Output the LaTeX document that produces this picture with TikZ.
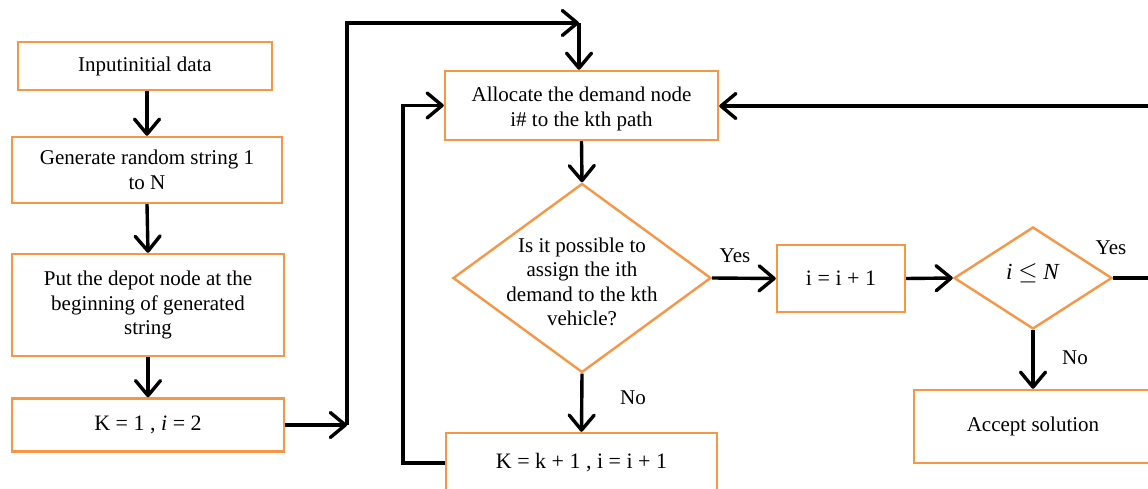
\documentclass[tikz,border=0pt]{standalone}
\usepackage{fontspec}
\setmainfont{Liberation Serif}
\usetikzlibrary{shapes.geometric,arrows.meta}
\definecolor{boxorange}{RGB}{247,150,70}
\tikzset{
  base/.style={draw=boxorange, line width=2.4pt, fill=white, inner sep=2pt,
    align=center, font=\fontsize{21}{24.5}\selectfont},
  procbox/.style={base, rectangle},
  decision/.style={base, diamond},
  txt/.style={align=center, inner sep=0pt, font=\fontsize{21}{24.5}\selectfont},
  flow/.style={line width=3.4pt, draw=black,
    -{Straight Barb[length=15pt,width=25pt,line width=3.4pt,round]}},
}
\begin{document}
\begin{tikzpicture}[x=1pt,y=-1pt]
\useasboundingbox (0,0) rectangle (1148,489);
\clip (0,0) rectangle (1148,489);

% left column
\node[procbox, minimum width=254pt, minimum height=48pt] (b1) at (145,66) {Inputinitial data};
\node[procbox, minimum width=270pt, minimum height=66pt] (b2) at (147,170) {Generate random string 1\\to N};
\node[procbox, minimum width=272pt, minimum height=102pt] (b3) at (148,305) {Put the depot node at the\\beginning of generated\\string};
\node[procbox, minimum width=272pt, minimum height=53pt,
      font=\fontsize{22}{24.5}\selectfont] (b4) at (148,425) {K = 1 , \textit{i} = 2};

% middle column
\node[procbox, minimum width=273pt, minimum height=69pt] (alloc) at (581.5,105.5) {};
\node[txt] (alloct) at (581.5,109) {Allocate the demand node\\i\# to the kth path};
\node[decision, minimum width=258pt, minimum height=189pt] (d1) at (582,278) {};
\node[txt] (d1t) at (582,282) {Is it possible to\\assign the ith\\demand to the kth\\vehicle?};
\node[procbox, minimum width=271pt, minimum height=60pt,
      font=\fontsize{22}{24.5}\selectfont] (k2) at (581.5,463) {K = k + 1 , i = i + 1};

% right part
\node[procbox, minimum width=128pt, minimum height=67pt,
      font=\fontsize{22}{24.5}\selectfont] (inc) at (841,278.5) {i = i + 1};
\node[decision, minimum width=158pt, minimum height=102pt] (d2) at (1033,278) {};
\node[txt, font=\fontsize{23}{25}\selectfont] (d2t) at (1033,273) {\textit{i} $\leq$ \textit{N}};
\node[procbox, minimum width=238pt, minimum height=73pt] (acc) at (1033,426.5) {Accept solution};

% routing points
\coordinate (c1) at (347,425);
\coordinate (c2) at (347,23);
\coordinate (c3) at (579,23);
\coordinate (c4) at (403,463);
\coordinate (c5) at (1165,278);
\coordinate (c6) at (1165,106);

% connectors
\draw[flow] (b2.north |- b1.south) -- (b2.north);
\draw[flow] (b2.south) -- (b3.north);
\draw[flow] (b3.south) -- (b4.north);
\draw[flow] (b4.east) -- (c1);
\draw[flow] (c1) -- (c2) -- (c3);
\draw[flow] (c3) -- (c3 |- alloc.north);
\draw[flow] (alloc.south) -- (d1.north);
\draw[flow] (d1.south) -- (k2.north);
\draw[flow] (k2.west) -- (c4) |- (alloc.west);
\draw[flow] (d1.east) -- (inc.west);
\draw[flow] (inc.east) -- (d2.west);
\draw[flow] (d2.south) -- (acc.north);
\draw[flow] (d2.east) -- (c5) -- (c6) -- (alloc.east |- c6);

% branch labels
\node[txt] (yes1) at (735,256) {Yes};
\node[txt] (no1) at (633,398) {No};
\node[txt] (yes2) at (1111,248) {Yes};
\node[txt] (no2) at (1075,358) {No};
\end{tikzpicture}
\end{document}
